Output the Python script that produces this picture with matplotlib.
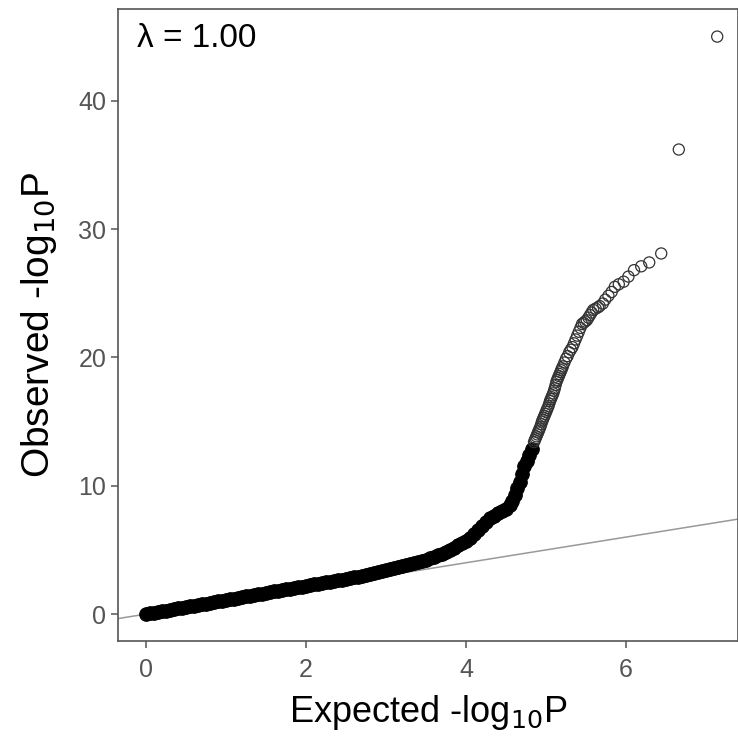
import matplotlib
matplotlib.use("Agg")
import matplotlib.pyplot as plt

plt.rcParams['font.family'] = ['Liberation Sans', 'DejaVu Sans']

# dense part of the QQ curve (drawn as solid band)
band_exp = [0.00, 0.05, 0.10, 0.15, 0.20, 0.25, 0.30, 0.35, 0.40, 0.45,
            0.50, 0.55, 0.60, 0.65, 0.70, 0.75, 0.80, 0.85, 0.90, 0.95,
            1.00, 1.05, 1.10, 1.15, 1.20, 1.25, 1.30, 1.35, 1.40, 1.45,
            1.50, 1.55, 1.60, 1.65, 1.70, 1.75, 1.80, 1.85, 1.90, 1.95,
            2.00, 2.05, 2.10, 2.15, 2.20, 2.25, 2.30, 2.35, 2.40, 2.45,
            2.50, 2.55, 2.60, 2.65, 2.70, 2.75, 2.80, 2.85, 2.90, 2.95,
            3.00, 3.05, 3.10, 3.15, 3.20, 3.25, 3.30, 3.35, 3.40, 3.45,
            3.50, 3.55, 3.60, 3.65, 3.70, 3.75, 3.80, 3.85, 3.90, 3.95,
            4.00, 4.05, 4.10, 4.15, 4.20, 4.25, 4.30, 4.35, 4.40, 4.45,
            4.50, 4.55, 4.58, 4.61, 4.64, 4.67, 4.70, 4.73, 4.76, 4.79, 4.82]
band_obs = [0.00, 0.05, 0.11, 0.16, 0.22, 0.27, 0.33, 0.38, 0.44, 0.49,
            0.55, 0.60, 0.66, 0.71, 0.77, 0.82, 0.88, 0.93, 0.99, 1.04,
            1.10, 1.15, 1.21, 1.26, 1.32, 1.37, 1.43, 1.48, 1.54, 1.59,
            1.65, 1.70, 1.76, 1.81, 1.87, 1.92, 1.98, 2.03, 2.09, 2.14,
            2.20, 2.25, 2.31, 2.36, 2.42, 2.47, 2.53, 2.58, 2.64, 2.69,
            2.74, 2.80, 2.86, 2.92, 2.99, 3.05, 3.12, 3.19, 3.26, 3.33,
            3.40, 3.48, 3.56, 3.64, 3.72, 3.80, 3.88, 3.96, 4.05, 4.15,
            4.25, 4.35, 4.45, 4.57, 4.70, 4.85, 5.00, 5.17, 5.35, 5.52,
            5.70, 5.95, 6.25, 6.55, 6.85, 7.15, 7.45, 7.65, 7.85, 8.00,
            8.20, 8.50, 8.85, 9.30, 9.80, 10.30, 10.90, 11.50, 11.95, 12.40, 12.90]

# sparse tail (single open circles)
tail_exp = [7.14, 6.66, 6.44, 6.29, 6.19, 6.10, 6.03, 5.97, 5.91, 5.86,
            5.82, 5.78, 5.74, 5.71, 5.67, 5.65, 5.62, 5.59, 5.57, 5.55,
            5.53, 5.51, 5.49, 5.47, 5.45, 5.43, 5.41, 5.39, 5.37, 5.35,
            5.33, 5.31, 5.29, 5.27, 5.25, 5.23, 5.21, 5.19, 5.17, 5.15,
            5.13, 5.11, 5.09, 5.07, 5.05, 5.03, 5.01, 4.99, 4.97, 4.95,
            4.93, 4.91, 4.89, 4.87, 4.85,
            5.20, 5.18, 5.16, 5.14, 5.12, 5.10, 5.08, 5.06, 5.04, 5.02,
            5.00, 4.98, 4.96, 4.94, 4.92, 4.90, 4.88, 4.86]
tail_obs = [45.0, 36.2, 28.1, 27.4, 27.1, 26.8, 26.3, 25.9, 25.7, 25.5,
            25.1, 24.8, 24.5, 24.2, 24.0, 23.9, 23.8, 23.7, 23.5, 23.3,
            23.1, 22.9, 22.8, 22.7, 22.6, 22.3, 22.0, 21.7, 21.4, 21.1,
            20.8, 20.6, 20.4, 20.1, 19.9, 19.6, 19.3, 19.0, 18.7, 18.4,
            18.1, 17.6, 17.2, 16.9, 16.6, 16.2, 15.9, 15.6, 15.3, 15.0,
            14.6, 14.3, 14.0, 13.7, 13.4,
            19.15, 18.85, 18.55, 18.25, 17.85, 17.4, 17.05, 16.75, 16.4, 16.05,
            15.75, 15.45, 15.15, 14.8, 14.45, 14.15, 13.85, 13.55]

lam = 1.00

fig = plt.figure(figsize=(7.38, 7.38), dpi=100)
ax = fig.add_axes([0.16, 0.1314, 0.84, 0.8564])

ax.axline((0, 0), slope=1, color='#999999', lw=1.1, zorder=1)
ax.scatter(band_exp, band_obs, s=95, facecolor='black', edgecolor='black',
           linewidths=0.8, zorder=2)
ax.scatter(tail_exp, tail_obs, s=64, facecolor='none', edgecolor='#333333',
           linewidths=0.9, zorder=3)

ax.set_xlim(-0.35, 7.4)
ax.set_ylim(-2.1, 47.15)
ax.set_xticks([0, 2, 4, 6])
ax.set_yticks([0, 10, 20, 30, 40])

for side in ['left', 'bottom', 'top', 'right']:
    ax.spines[side].set_color('#555555')
    ax.spines[side].set_linewidth(1.2)

ax.tick_params(axis='both', colors='#555555', labelcolor='#555555',
               labelsize=18, length=5, width=1.1)
ax.tick_params(axis='x', pad=7)

ax.set_xlabel('Expected -log$_{10}$P', fontsize=26, labelpad=8)
ax.set_ylabel('Observed -log$_{10}$P', fontsize=28, labelpad=14)
ax.text(0.03, 0.978, '\u03bb = %.2f' % lam, transform=ax.transAxes,
        ha='left', va='top', fontsize=24)

fig.savefig('out.png', dpi=100)
